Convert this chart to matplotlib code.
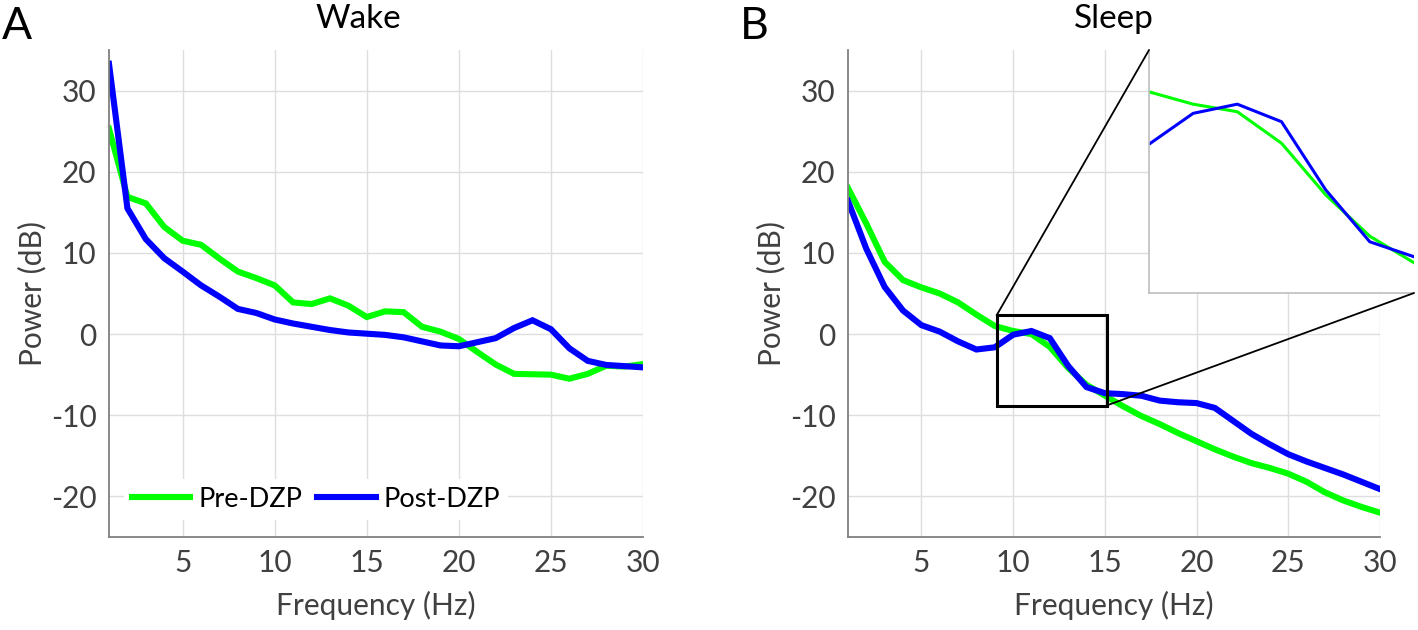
import matplotlib
matplotlib.use("Agg")
import matplotlib.pyplot as plt
from matplotlib.patches import Rectangle, ConnectionPatch
import numpy as np

plt.rcParams['font.family'] = ['Lato', 'DejaVu Sans']
plt.rcParams['axes.unicode_minus'] = False

# ---------------- data ----------------
freq = list(range(1, 31))

wake_pre = [25.3, 16.9, 16.1, 13.2, 11.5, 11.0, 9.3, 7.7, 6.9, 6.0,
            3.9, 3.7, 4.4, 3.5, 2.1, 2.8, 2.7, 0.9, 0.3, -0.6,
            -2.2, -3.75, -4.9, -4.95, -5.0, -5.5, -4.9, -3.9, -4.0, -3.7]
wake_post = [33.3, 15.5, 11.7, 9.35, 7.7, 6.0, 4.6, 3.1, 2.6, 1.8,
             1.3, 0.9, 0.5, 0.2, 0.05, -0.1, -0.4, -0.9, -1.4, -1.5,
             -1.0, -0.5, 0.75, 1.7, 0.6, -1.75, -3.3, -3.8, -3.95, -4.1]

sleep_pre = [18.0, 13.6, 8.9, 6.65, 5.75, 5.0, 3.9, 2.4, 1.0, 0.38,
             0.0, -1.58, -4.17, -6.25, -7.58, -8.9, -10.1, -11.1, -12.2, -13.2,
             -14.2, -15.1, -15.9, -16.5, -17.2, -18.2, -19.5, -20.5, -21.3, -22.0]
sleep_post = [16.4, 10.5, 5.8, 2.9, 1.1, 0.3, -0.9, -1.9, -1.63, -0.08,
              0.38, -0.5, -3.92, -6.53, -7.28, -7.4, -7.6, -8.2, -8.4, -8.5,
              -9.1, -10.7, -12.3, -13.6, -14.8, -15.7, -16.5, -17.3, -18.2, -19.1]

series_labels = ["Pre-DZP", "Post-DZP"]
panel_titles = ["Wake", "Sleep"]
panel_letters = ["A", "B"]
xticks = [5, 10, 15, 20, 25, 30]
yticks = [-20, -10, 0, 10, 20, 30]
xlabel = "Frequency (Hz)"
ylabel = "Power (dB)"

zoom_x = (9.1, 15.1)
zoom_y = (-8.8, 2.3)
inset_xlim = (9, 15)
inset_ylim = (-9.1, 3.1)

# ---------------- style ----------------
GREEN = "#00FF00"
BLUE = "#0000FF"
GRID = "#dedede"
SPINE = "#808080"
TXT = "#404040"
LW = 4.4
FS = 21.5

W, H = 1418, 630
fig = plt.figure(figsize=(W / 100, H / 100), dpi=100)

ax1 = fig.add_axes([109 / W, 1 - 537 / H, (643 - 109) / W, (537 - 50) / H])
ax2 = fig.add_axes([848 / W, 1 - 537 / H, (1380 - 848) / W, (537 - 50) / H])


def style(ax):
    ax.set_xlim(1, 30)
    ax.set_ylim(-25, 35)
    ax.set_xticks(xticks)
    ax.set_yticks(yticks)
    ax.grid(True, color=GRID, lw=1.0)
    ax.set_axisbelow(True)
    for s in ("top", "right"):
        ax.spines[s].set_visible(False)
    for s in ("left", "bottom"):
        ax.spines[s].set_color(SPINE)
        ax.spines[s].set_linewidth(1.3)
    ax.tick_params(length=0, labelsize=FS, colors=TXT, pad=9)
    ax.set_xlabel(xlabel, fontsize=FS, color=TXT, labelpad=10)
    ax.set_ylabel(ylabel, fontsize=FS, color=TXT, labelpad=3)


style(ax1)
style(ax2)

l1, = ax1.plot(freq, wake_pre, color=GREEN, lw=LW, solid_joinstyle='miter', label=series_labels[0])
l2, = ax1.plot(freq, wake_post, color=BLUE, lw=LW, solid_joinstyle='miter', label=series_labels[1])
ax2.plot(freq, sleep_pre, color=GREEN, lw=LW, solid_joinstyle='miter')
ax2.plot(freq, sleep_post, color=BLUE, lw=LW, solid_joinstyle='miter')

ax1.set_title(panel_titles[0], fontsize=24, x=0.466, pad=16)
ax2.set_title(panel_titles[1], fontsize=24, pad=16)

fig.text(2 / W, 1 - 39 / H, panel_letters[0], fontsize=32, ha='left', va='baseline')
fig.text(740 / W, 1 - 39 / H, panel_letters[1], fontsize=32, ha='left', va='baseline')

leg = ax1.legend(handles=[l1, l2], loc='lower left', bbox_to_anchor=(0.028, 0.035),
                 ncol=2, frameon=True, fontsize=19.5, handlelength=2.15,
                 handletextpad=0.3, columnspacing=0.55, borderpad=0.3,
                 borderaxespad=0)
leg.get_frame().set_facecolor('white')
leg.get_frame().set_edgecolor('none')
leg.get_frame().set_alpha(1)
for t in leg.get_texts():
    t.set_color("black")

# zoom rectangle
rect = Rectangle((zoom_x[0], zoom_y[0]), zoom_x[1] - zoom_x[0], zoom_y[1] - zoom_y[0],
                 fill=False, edgecolor='black', lw=2.2, zorder=5)
ax2.add_patch(rect)

# inset
axin = fig.add_axes([1149 / W, 1 - 293 / H, (1414 - 1149) / W, (293 - 50) / H])
axin.set_facecolor('white')
axin.plot(freq, sleep_pre, color=GREEN, lw=2.2)
axin.plot(freq, sleep_post, color=BLUE, lw=2.2)
axin.set_xlim(*inset_xlim)
axin.set_ylim(*inset_ylim)
axin.set_xticks([])
axin.set_yticks([])
for s in ("top", "right"):
    axin.spines[s].set_visible(False)
for s in ("left", "bottom"):
    axin.spines[s].set_color("#bfbfbf")
    axin.spines[s].set_linewidth(1.2)

c1 = ConnectionPatch(xyA=(zoom_x[0], zoom_y[1]), coordsA=ax2.transData,
                     xyB=(0, 1), coordsB=axin.transAxes, color='black', lw=1.3)
c2 = ConnectionPatch(xyA=(zoom_x[1], zoom_y[0]), coordsA=ax2.transData,
                     xyB=(1, 0), coordsB=axin.transAxes, color='black', lw=1.3)
fig.add_artist(c1)
fig.add_artist(c2)

fig.savefig("out.png", dpi=100)
